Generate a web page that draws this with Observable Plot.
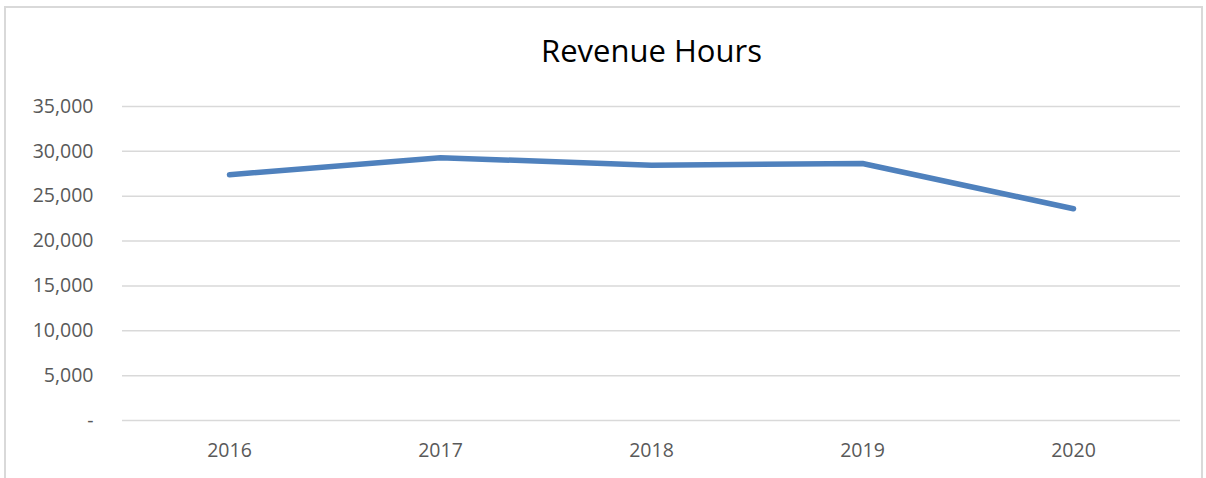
<!DOCTYPE html>
<html>
<head>
<meta charset="utf-8">
<script src="https://cdn.jsdelivr.net/npm/d3@7"></script>
<script src="https://cdn.jsdelivr.net/npm/@observablehq/plot@0.6"></script>
<style>
  html, body { margin: 0; padding: 0; background: #fff; width: 1206px; height: 478px; overflow: hidden; }
  #wrap { position: relative; width: 1206px; height: 478px; }
  #border { position: absolute; left: 4px; top: 6px; width: 1199px; height: 480px; border: 2px solid #d9d9d9; box-sizing: border-box; }
  #chart { position: absolute; left: 0; top: 0; }
</style>
</head>
<body>
<div id="wrap"><div id="border"></div><div id="chart"></div></div>
<script>
const title = "Revenue Hours";
const years = ["2016", "2017", "2018", "2019", "2020"];
const revenueHours = [27400, 29300, 28450, 28650, 23600];
const yTicks = [0, 5000, 10000, 15000, 20000, 25000, 30000, 35000];

const data = years.map((y, i) => ({year: y, value: revenueHours[i]}));
const fmt = d3.format(",");
const font = "'Open Sans', 'Liberation Sans', sans-serif";

const chart = Plot.plot({
  width: 1206,
  height: 478,
  marginLeft: 122,
  marginRight: 26,
  marginTop: 106,
  marginBottom: 58,
  style: {fontFamily: font, fontSize: "20px", color: "#595959", background: "transparent"},
  x: {type: "point", domain: years, padding: 0.5},
  y: {domain: [0, 35000]},
  marks: [
    Plot.gridY(yTicks, {stroke: "#d9d9d9", strokeOpacity: 1, strokeWidth: 1.5}),
    Plot.axisY(yTicks, {label: null, tickSize: 0, tickPadding: 29, fontSize: 19.5, fill: "#595959",
      tickFormat: d => d === 0 ? "-" : fmt(d)}),
    Plot.axisX({label: null, tickSize: 0, tickPadding: 23, fontSize: 19.5, fill: "#595959"}),
    Plot.line(data, {x: "year", y: "value", stroke: "#4f81bd", strokeWidth: 5.5, strokeLinecap: "round", strokeLinejoin: "round"}),
    Plot.text([title], {frameAnchor: "top", lineAnchor: "middle", dy: -54, fontSize: 31, fill: "#000", fontFamily: font})
  ]
});
document.getElementById("chart").appendChild(chart);
</script>
</body>
</html>
